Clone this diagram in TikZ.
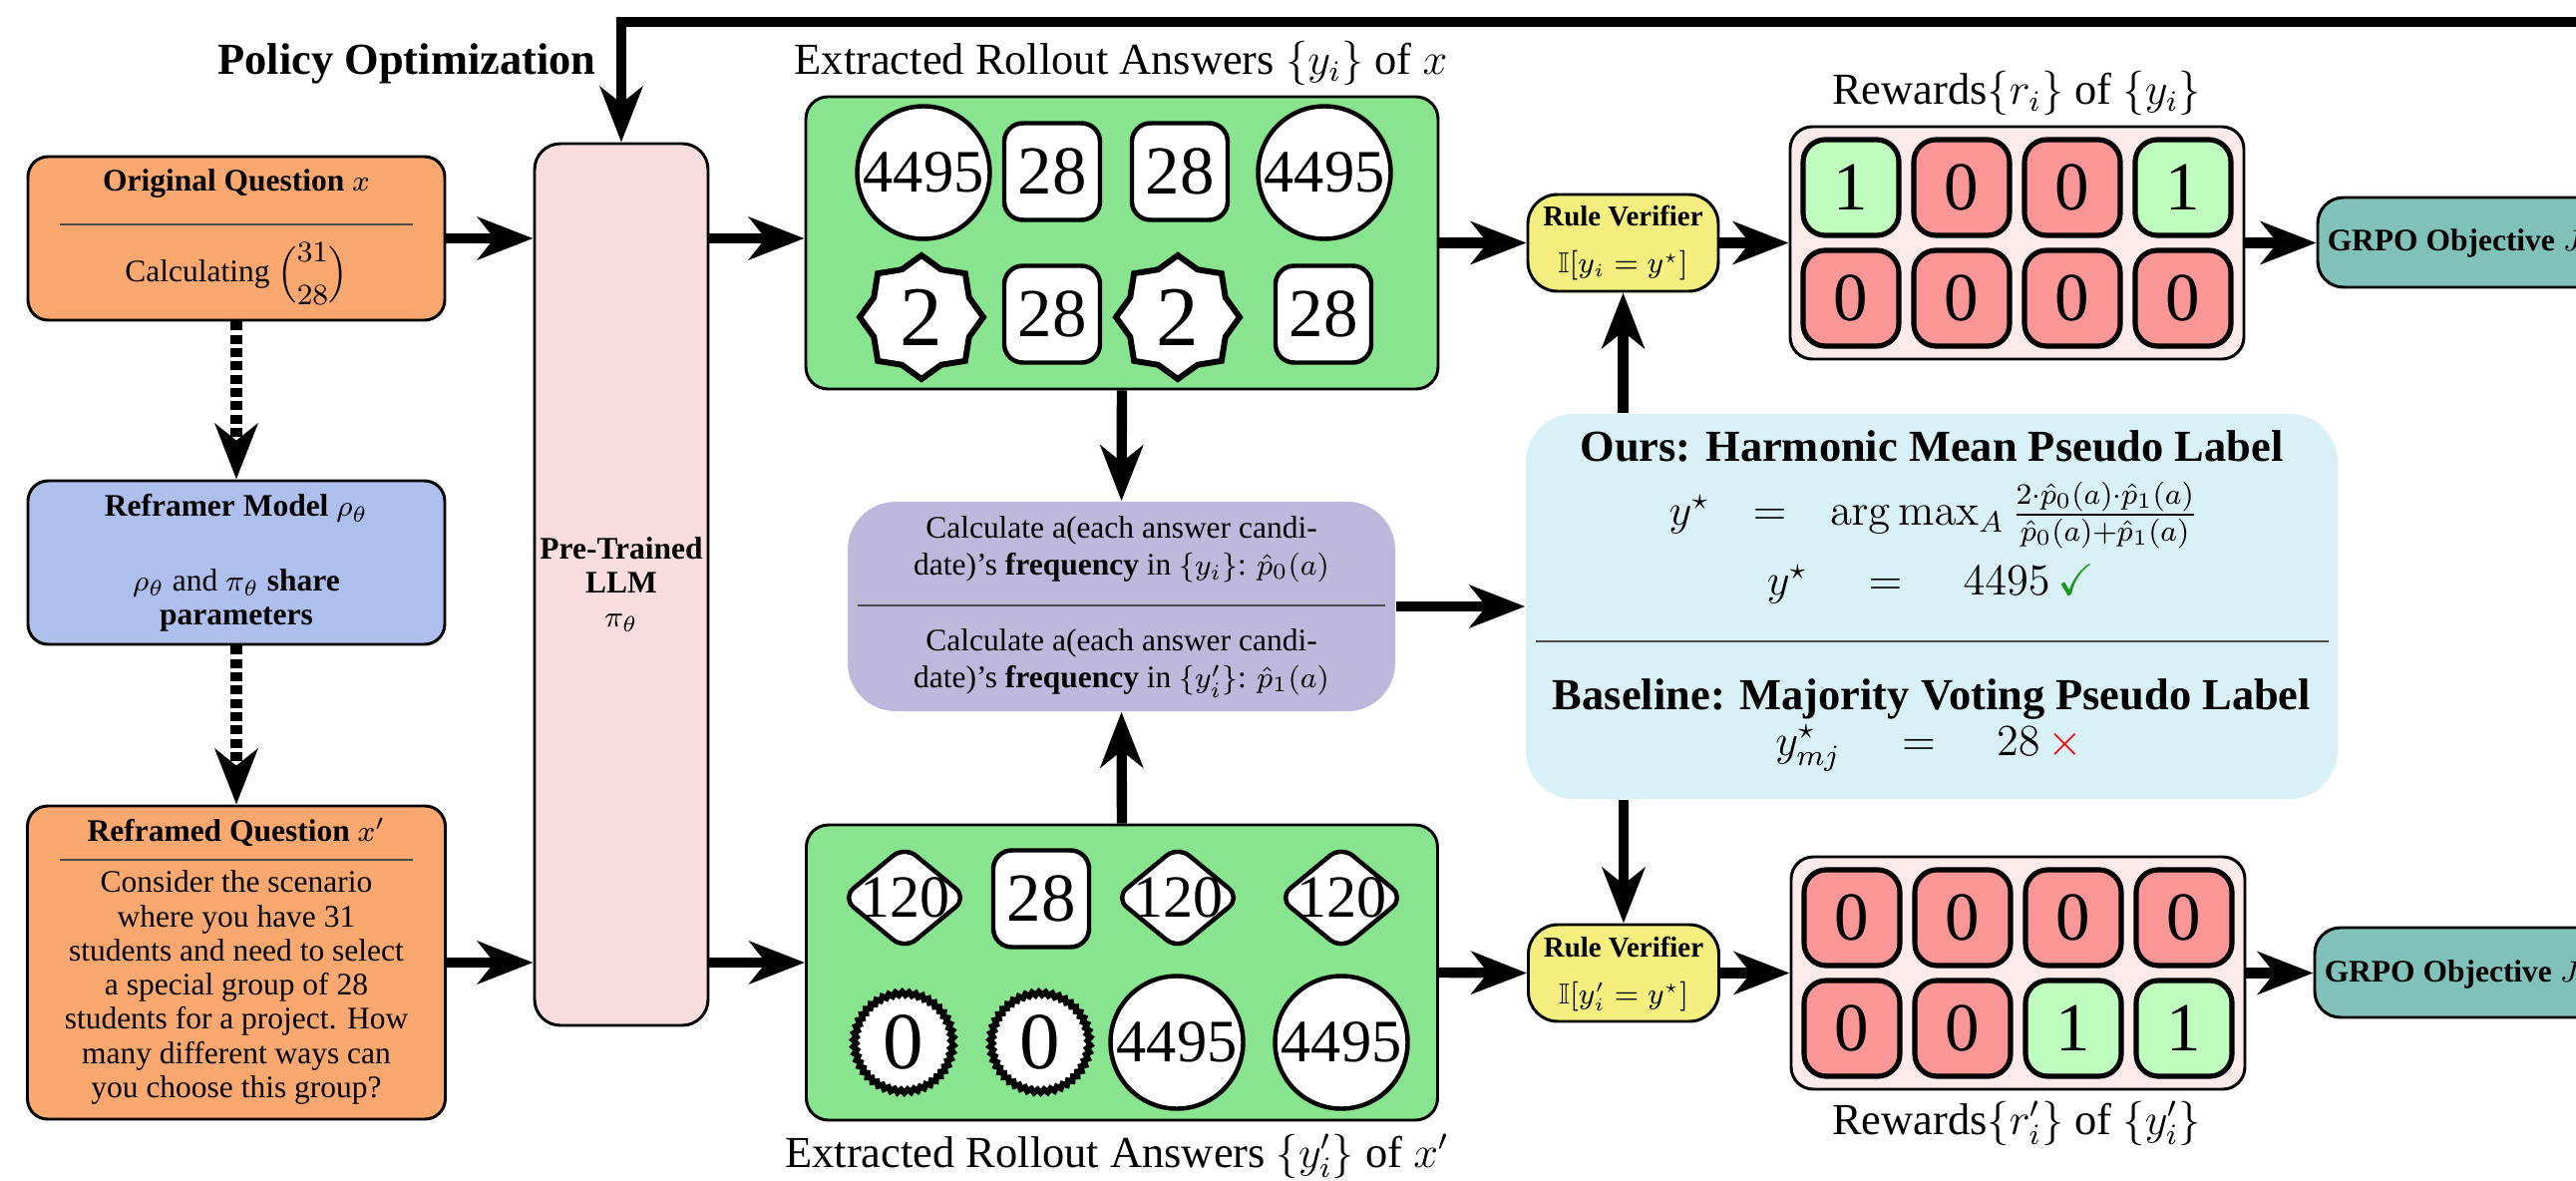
\documentclass[tikz,border=0pt]{standalone}
\usepackage{amsmath,amssymb}
\usepackage[no-math]{fontspec}
\setmainfont{Liberation Serif}
\usetikzlibrary{arrows.meta,shapes.geometric,decorations.pathmorphing,calc}
\def\pxu{0.27pt}
\newcommand\fsBox{\fontsize{8.5}{9.25}\selectfont}
\newcommand\fsPur{\fontsize{8.5}{10}\selectfont}
\newcommand\fsLab{\fontsize{12}{14}\selectfont}
\newcommand\fsRv{\fontsize{7.8}{9}\selectfont}
\definecolor{orangeF}{RGB}{251,168,112}
\definecolor{blueF}{RGB}{174,191,238}
\definecolor{pinkF}{RGB}{249,221,223}
\definecolor{greenF}{RGB}{136,228,142}
\definecolor{purpF}{RGB}{189,184,220}
\definecolor{cyanF}{RGB}{217,240,247}
\definecolor{yellF}{RGB}{245,239,127}
\definecolor{rewF}{RGB}{253,235,235}
\definecolor{cellG}{RGB}{190,253,190}
\definecolor{cellR}{RGB}{250,150,150}
\definecolor{tealF}{RGB}{128,194,186}
\definecolor{chkG}{RGB}{30,150,30}
\begin{document}
\begin{tikzpicture}[x=0.27pt,y=-0.27pt,
  arr/.style={line width=2.8pt,-{Stealth[length=15pt,width=11.5pt,inset=4.5pt]}},
  darr/.style={arr,line width=3.4pt,dash pattern=on 2.4pt off 1.2pt},
  qbox/.style={draw=black,line width=0.8pt,rounded corners=5.5pt,inner sep=0pt},
  gbox/.style={draw=black,line width=0.8pt,rounded corners=6pt,inner sep=0pt,fill=greenF},
  pbox/.style={inner sep=0pt,rounded corners=13pt},
  rv/.style={draw=black,line width=0.8pt,rounded corners=8pt,inner sep=0pt,fill=yellF,minimum width=191*\pxu,minimum height=97*\pxu},
  rbox/.style={draw=black,line width=0.8pt,rounded corners=6pt,inner sep=0pt,fill=rewF,minimum width=455*\pxu,minimum height=233*\pxu},
  gr/.style={draw=black,line width=0.8pt,rounded corners=7pt,inner sep=0pt,fill=tealF,minimum width=300*\pxu,minimum height=90*\pxu},
  tb/.style={inner sep=0pt,font=\fsBox},
  tp/.style={inner sep=0pt,font=\fsPur},
  tr/.style={inner sep=0pt,font=\fsRv},
  lab/.style={inner sep=0pt,font=\fsLab},
  sep/.style={line width=0.6pt,black!70},
  circ/.style={draw,circle,fill=white,line width=1.2pt,minimum size=133*\pxu,inner sep=0pt,font=\fontsize{16.3}{18}\selectfont},
  sq/.style={draw,fill=white,rounded corners=5pt,line width=1.2pt,minimum width=96*\pxu,minimum height=97*\pxu,inner sep=0pt,font=\fontsize{18.6}{20}\selectfont},
  starx/.style={draw,fill=white,star,star points=8,star point ratio=1.2,minimum size=124*\pxu,inner sep=0pt,line width=1.6pt,font=\fontsize{23}{25}\selectfont},
  dia/.style={draw,fill=white,diamond,inner sep=-4pt,minimum width=127*\pxu,minimum height=105*\pxu,rounded corners=4pt,line width=1.2pt,font=\fontsize{16.2}{18}\selectfont},
  gear/.style={draw,fill=white,circle,minimum size=98*\pxu,inner sep=0pt,line width=1.6pt,decorate,decoration={zigzag,segment length=1.8pt,amplitude=0.45pt},font=\fontsize{21.9}{24}\selectfont},
  cell/.style={draw,line width=1.4pt,rounded corners=6pt,minimum width=96*\pxu,minimum height=96*\pxu,inner sep=0pt,font=\fontsize{18.6}{20}\selectfont},
  cg/.style={cell,fill=cellG},
  cr/.style={cell,fill=cellR}]
\useasboundingbox (0,0) rectangle (2583,1184);

% ---- left column
\node[qbox,fill=orangeF,minimum width=418*\pxu,minimum height=164*\pxu] (q1) at (237,239) {};
\node[tb,anchor=base] (q1t) at (237,192) {\textbf{Original Question} $x$};
\draw[sep] (60,225) -- (414,225);
\node[tb,anchor=base] (q1b) at (237,283) {Calculating $\dbinom{31}{28}$};

\node[qbox,fill=blueF,minimum width=418*\pxu,minimum height=164*\pxu] (rf) at (237,564) {};
\node[tb,anchor=base] (rft) at (237,518) {\textbf{Reframer Model} $\rho_\theta$};
\node[tb,align=center] (rfb) at (237,602) {$\rho_\theta$ and $\pi_\theta$ \textbf{share}\\\textbf{parameters}};

\node[qbox,fill=orangeF,minimum width=419*\pxu,minimum height=314*\pxu] (q2) at (237,965) {};
\node[tb,anchor=base] (q2t) at (237,843) {\textbf{Reframed Question} $x'$};
\draw[sep] (60,862) -- (414,862);
\node[tb,align=center] (q2b) at (237,990) {Consider the scenario\\where you have 31\\students and need to select\\a special group of 28\\students for a project. How\\many different ways can\\you choose this group?};

\node[lab,anchor=base,font=\fsLab\bfseries] (po) at (408,75) {Policy Optimization};

% ---- LLM
\node[qbox,fill=pinkF,rounded corners=7pt,minimum width=174*\pxu,minimum height=884*\pxu,align=center,font=\fsBox] (llm) at (623,586) {\textbf{Pre-Trained}\\\textbf{LLM}\\$\pi_\theta$};

% ---- green boxes
\node[gbox,minimum width=634*\pxu,minimum height=293*\pxu] (g1) at (1125,243.5) {};
\node[circ] (a1) at (926,173) {4495};
\node[sq] (a2) at (1055,172) {28};
\node[sq] (a3) at (1183,172) {28};
\node[circ] (a4) at (1328,173) {4495};
\node[starx] (a5) at (924,318) {2};
\node[sq] (a6) at (1055,315) {28};
\node[starx] (a7) at (1181,318) {2};
\node[sq] (a8) at (1327,315) {28};
\node[lab,anchor=base] (g1l) at (1124,75) {Extracted Rollout Answers $\{y_i\}$ of $x$};

\node[gbox,minimum width=633*\pxu,minimum height=296*\pxu] (g2) at (1125,975) {};
\node[dia] (b1) at (907,900) {120};
\node[sq] (b2) at (1044,901) {28};
\node[dia] (b3) at (1181,900) {120};
\node[dia] (b4) at (1345,900) {120};
\node[gear] (b5) at (906,1045) {0};
\node[gear] (b6) at (1043,1045) {0};
\node[circ] (b7) at (1180,1045) {4495};
\node[circ] (b8) at (1345,1045) {4495};
\node[lab,anchor=base] (g2l) at (1120,1170) {Extracted Rollout Answers $\{y'_i\}$ of $x'$};

% ---- purple
\node[pbox,fill=purpF,minimum width=549*\pxu,minimum height=210*\pxu] (pur) at (1124.5,608) {};
\node[tp,align=center] (pt1) at (1124.5,551) {Calculate a(each answer candi-\\date)'s \textbf{frequency} in $\{y_i\}$: $\hat{p}_0(a)$};
\draw[sep] (860,607) -- (1389,607);
\node[tp,align=center] (pt2) at (1124.5,665) {Calculate a(each answer candi-\\date)'s \textbf{frequency} in $\{y'_i\}$: $\hat{p}_1(a)$};

% ---- cyan
\node[pbox,fill=cyanF,minimum width=814*\pxu,minimum height=386*\pxu] (cy) at (1937,608) {};
\node[lab,anchor=base,font=\fsLab\bfseries] (ct1) at (1937,462) {Ours: Harmonic Mean Pseudo Label};
\node[lab,anchor=base] (cf1) at (1939,527) {$y^\star \hspace{0.7em}= \hspace{0.7em}\arg\max_A \frac{2\cdot\hat{p}_0(a)\cdot\hat{p}_1(a)}{\hat{p}_0(a)+\hat{p}_1(a)}$};
\node[lab,anchor=base] (cf2) at (1936,597) {$y^\star \hspace{1.1em}= \hspace{1.1em}4495\,{\color{chkG}\checkmark}$};
\draw[sep] (1540,643) -- (2335,643);
\node[lab,anchor=base,font=\fsLab\bfseries] (ct2) at (1937,712) {Baseline: Majority Voting Pseudo Label};
\node[lab,anchor=base] (cf3) at (1934,757) {$y^\star_{mj} \hspace{1.1em}= \hspace{1.1em}28\,{\color{red}\times}$};

% ---- verifiers
\node[rv] (rv1) at (1627.5,243.5) {};
\node[tr,anchor=base] (rv1t) at (1627.5,227) {\textbf{Rule Verifier}};
\node[tr,anchor=base] (rv1f) at (1627.5,274) {$\mathbb{I}[y_i = y^\star]$};
\node[rv] (rv2) at (1628,975.5) {};
\node[tr,anchor=base] (rv2t) at (1628,959) {\textbf{Rule Verifier}};
\node[tr,anchor=base] (rv2f) at (1628,1006) {$\mathbb{I}[y'_i = y^\star]$};

% ---- rewards
\node[rbox] (rw1) at (2022.5,243.5) {};
\node[cg] (c11) at (1856,188) {1};
\node[cr] (c12) at (1967,188) {0};
\node[cr] (c13) at (2078,188) {0};
\node[cg] (c14) at (2189,188) {1};
\node[cr] (c15) at (1856,299) {0};
\node[cr] (c16) at (1967,299) {0};
\node[cr] (c17) at (2078,299) {0};
\node[cr] (c18) at (2189,299) {0};
\node[lab,anchor=base] (rw1l) at (2022,105) {Rewards$\{r_i\}$ of $\{y_i\}$};

\node[rbox] (rw2) at (2023.5,975.5) {};
\node[cr] (d11) at (1857,920) {0};
\node[cr] (d12) at (1968,920) {0};
\node[cr] (d13) at (2079,920) {0};
\node[cr] (d14) at (2190,920) {0};
\node[cr] (d15) at (1857,1031) {0};
\node[cr] (d16) at (1968,1031) {0};
\node[cg] (d17) at (2079,1031) {1};
\node[cg] (d18) at (2190,1031) {1};
\node[lab,anchor=base] (rw2l) at (2022,1137) {Rewards$\{r'_i\}$ of $\{y'_i\}$};

% ---- GRPO
\node[gr] (gr1) at (2474,243) {};
\node[tb,anchor=base west] (gr1t) at (2333,252) {\textbf{GRPO Objective} $J$};
\node[gr] (gr2) at (2471,975) {};
\node[tb,anchor=base west] (gr2t) at (2330,984) {\textbf{GRPO Objective} $J$};

% ---- connectors
\coordinate (fb) at (2620,22);
\draw[arr] (fb) -| (llm.north);
\draw[arr] (q1.east) -- (q1.east -| llm.west);
\draw[arr] (q2.east) -- (q2.east -| llm.west);
\draw[arr] (llm.east |- q1.east) -- (g1.west |- q1.east);
\draw[arr] (llm.east |- q2.east) -- (g2.west |- q2.east);
\draw[darr] (q1.south) -- (rf.north);
\draw[darr] (rf.south) -- (q2.north);
\draw[arr] (g1.south) -- (pur.north);
\draw[arr] (g2.north) -- (pur.south);
\draw[arr] (pur.east) -- (cy.west);
\draw[arr] (g1.east) -- (rv1.west);
\draw[arr] (rv1.east) -- (rw1.west);
\draw[arr] (rw1.east) -- (rw1.east -| gr1.west);
\draw[arr] (rv1.south |- cy.north) -- (rv1.south);
\draw[arr] (rv2.north |- cy.south) -- (rv2.north);
\draw[arr] (g2.east) -- (rv2.west);
\draw[arr] (rv2.east) -- (rw2.west);
\draw[arr] (rw2.east) -- (rw2.east -| gr2.west);
\end{tikzpicture}
\end{document}
